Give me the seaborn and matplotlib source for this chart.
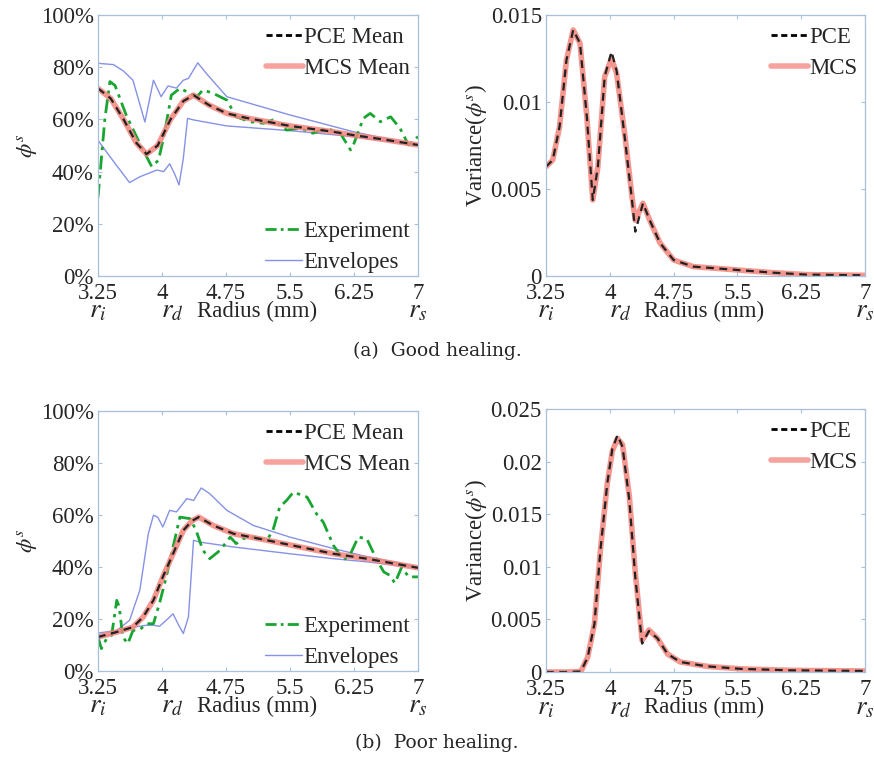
import numpy as np
import pandas as pd
import matplotlib
matplotlib.use("Agg")
import matplotlib.pyplot as plt
import matplotlib.transforms as mtransforms
from matplotlib.lines import Line2D
import seaborn as sns

# ---------------- data ----------------
# (a) Good healing - mean (%)
a_mean_x = [3.25, 3.40, 3.55, 3.70, 3.82, 3.95, 4.10, 4.25, 4.37, 4.55, 4.76, 5.0, 5.5, 6.0, 6.24, 6.6, 7.0]
a_pce_mean = [71.9, 68.0, 60.0, 51.0, 46.7, 50.0, 60.0, 67.0, 69.3, 65.5, 62.3, 60.5, 57.5, 55.3, 54.0, 52.3, 50.2]
a_mcs_mean = [71.9, 68.0, 60.0, 51.0, 46.7, 50.0, 60.0, 67.0, 69.3, 65.5, 62.3, 60.5, 57.5, 55.3, 54.0, 52.3, 50.2]

a_env_up_x = [3.25, 3.43, 3.55, 3.66, 3.80, 3.90, 3.99, 4.07, 4.17, 4.25, 4.31, 4.42, 4.52, 4.76, 5.5, 6.24, 7.0]
a_env_up = [81.5, 81.0, 78.5, 75.0, 59.0, 75.0, 68.7, 72.8, 72.0, 75.0, 75.7, 81.7, 77.6, 68.7, 61.7, 55.3, 50.0]
a_env_lo_x = [3.25, 3.43, 3.62, 3.74, 3.84, 3.94, 4.02, 4.09, 4.15, 4.20, 4.25, 4.30, 4.37, 4.76, 5.5, 6.24, 7.0]
a_env_lo = [52.0, 44.0, 35.8, 38.0, 39.3, 40.6, 40.0, 43.0, 39.0, 34.9, 45.0, 60.4, 59.8, 57.5, 55.7, 53.4, 50.0]

a_exp_x = [3.25, 3.33, 3.39, 3.45, 3.58, 3.74, 3.88, 3.96, 4.03, 4.11, 4.21, 4.33, 4.41, 4.48, 4.60, 4.76, 4.87,
           5.03, 5.19, 5.30, 5.46, 5.62, 5.77, 5.93, 6.09, 6.21, 6.25, 6.36, 6.44, 6.56, 6.68, 6.79, 6.89, 7.0]
a_exp = [30.0, 60.0, 74.5, 73.0, 61.7, 50.8, 41.9, 44.4, 54.7, 69.3, 71.9, 70.0, 68.7, 71.3, 70.0, 67.4, 61.0,
         59.1, 58.5, 59.8, 55.9, 56.6, 54.7, 56.6, 54.7, 48.3, 50.8, 60.4, 62.3, 59.1, 61.0, 56.6, 50.2, 53.4]

# (a) Good healing - variance
a_var_x = [3.25, 3.33, 3.41, 3.49, 3.57, 3.65, 3.73, 3.80, 3.86, 3.94, 4.02, 4.08, 4.18, 4.26, 4.30, 4.39,
           4.47, 4.59, 4.75, 4.98, 5.41, 5.92, 6.31, 7.0]
a_pce_var = [0.00628, 0.00667, 0.0086, 0.0124, 0.01414, 0.01337, 0.00916, 0.00437, 0.00628, 0.01146, 0.0129,
             0.01180, 0.0078, 0.0044, 0.00255, 0.00418, 0.0032, 0.0019, 0.00092, 0.00054, 0.00038, 0.00019,
             0.00008, 0.00004]
a_mcs_var = [0.00628, 0.00667, 0.0086, 0.0124, 0.01414, 0.01337, 0.00916, 0.00437, 0.00628, 0.01146, 0.0125,
             0.01165, 0.0080, 0.0046, 0.0032, 0.00418, 0.0032, 0.0019, 0.00092, 0.00054, 0.00038, 0.00019,
             0.00008, 0.00004]

# (b) Poor healing - mean (%)
b_mean_x = [3.25, 3.47, 3.66, 3.78, 3.90, 4.01, 4.13, 4.25, 4.35, 4.43, 4.60, 4.84, 5.23, 5.62, 6.01, 6.40, 7.0]
b_pce_mean = [13.1, 15.0, 16.9, 20.8, 27.2, 36.2, 45.1, 54.1, 57.7, 59.2, 56.0, 52.8, 50.3, 47.7, 45.1, 43.2, 39.7]
b_mcs_mean = [13.1, 15.0, 16.9, 20.8, 27.2, 36.2, 45.1, 54.1, 57.7, 59.2, 56.0, 52.8, 50.3, 47.7, 45.1, 43.2, 39.7]

b_env_up_x = [3.25, 3.47, 3.62, 3.74, 3.84, 3.90, 3.95, 4.01, 4.09, 4.17, 4.23, 4.29, 4.37, 4.46, 4.56, 4.76,
              5.07, 5.5, 6.01, 6.40, 7.0]
b_env_up = [14.6, 15.6, 19.5, 31.0, 52.8, 59.9, 59.2, 55.4, 61.8, 61.2, 63.7, 66.3, 65.6, 70.4, 68.2, 61.8,
            56.0, 51.5, 47.1, 44.0, 40.0]
b_env_lo_x = [3.25, 3.66, 3.82, 3.90, 3.97, 4.05, 4.13, 4.19, 4.25, 4.31, 4.37, 4.44, 4.84, 5.5, 6.01, 6.40, 7.0]
b_env_lo = [12.4, 16.9, 17.6, 17.6, 17.2, 19.5, 22.0, 18.0, 14.4, 20.8, 50.3, 49.6, 47.7, 45.1, 43.2, 42.0, 39.7]

b_exp_x = [3.25, 3.29, 3.35, 3.41, 3.47, 3.50, 3.54, 3.60, 3.66, 3.74, 3.82, 3.90, 3.97, 4.05, 4.13, 4.21,
           4.33, 4.40, 4.48, 4.56, 4.68, 4.80, 4.87, 4.95, 5.07, 5.23, 5.30, 5.38, 5.46, 5.54, 5.70, 5.81,
           5.89, 6.01, 6.13, 6.21, 6.30, 6.40, 6.52, 6.60, 6.67, 6.73, 6.81, 6.89, 7.0]
b_exp = [13.1, 8.6, 12.4, 13.7, 27.2, 24.6, 13.1, 10.5, 15.6, 15.9, 18.2, 18.2, 25.9, 36.2, 47.7, 59.2,
         58.6, 54.1, 46.4, 43.2, 46.4, 51.5, 49.0, 50.9, 51.5, 50.3, 54.1, 63.1, 65.6, 68.8, 66.9, 60.5,
         57.3, 48.3, 42.6, 45.1, 51.5, 50.9, 42.6, 38.1, 36.8, 33.8, 40.0, 36.2, 36.2]

# (b) Poor healing - variance
b_var_x = [3.25, 3.50, 3.66, 3.74, 3.82, 3.89, 3.97, 4.03, 4.09, 4.15, 4.23, 4.30, 4.38, 4.46, 4.56, 4.68,
           4.83, 5.14, 5.54, 6.12, 7.0]
b_pce_var = [0.0, 0.0, 0.00005, 0.0014, 0.0046, 0.0116, 0.0179, 0.0212, 0.0225, 0.0214, 0.0163, 0.0090,
             0.0027, 0.0039, 0.0032, 0.0017, 0.00095, 0.00054, 0.0003, 0.00016, 0.0001]
b_mcs_var = [0.0, 0.0, 0.00005, 0.0014, 0.0046, 0.0116, 0.0179, 0.0210, 0.0222, 0.0216, 0.0167, 0.0094,
             0.0030, 0.0040, 0.0032, 0.0017, 0.00095, 0.00054, 0.0003, 0.00016, 0.0001]

x_ticks = [3.25, 4, 4.75, 5.5, 6.25, 7]
x_tick_labels = ["3.25", "4", "4.75", "5.5", "6.25", "7"]
pct_ticks = [0, 20, 40, 60, 80, 100]
pct_labels = ["0%", "20%", "40%", "60%", "80%", "100%"]
a_var_ticks = [0, 0.005, 0.01, 0.015]
a_var_labels = ["0", "0.005", "0.01", "0.015"]
b_var_ticks = [0, 0.005, 0.01, 0.015, 0.02, 0.025]
b_var_labels = ["0", "0.005", "0.01", "0.015", "0.02", "0.025"]
captions = ["(a)  Good healing.", "(b)  Poor healing."]

# ---------------- styling ----------------
sns.set_theme(style="white")
plt.rcParams["font.family"] = "serif"
plt.rcParams["font.serif"] = ["Liberation Serif", "DejaVu Serif"]
plt.rcParams["mathtext.fontset"] = "stix"

SERIF = "Liberation Serif"
FS = 16.5
SPINE = "#a9c0dc"
RED = "#f4847c"
GREEN = "#19a531"
BLUE = "#8592e6"

fig = plt.figure(figsize=(8.74, 7.62), dpi=100)

ax_al = fig.add_axes([0.1121, 0.6378, 0.3661, 0.3425])
ax_ar = fig.add_axes([0.6247, 0.6378, 0.3650, 0.3425])
ax_bl = fig.add_axes([0.1121, 0.1194, 0.3661, 0.3412])
ax_br = fig.add_axes([0.6247, 0.1181, 0.3650, 0.3452])


def style_axes(ax, yticks, ylabels, ymax, ylabel):
    ax.set_xlim(3.25, 7)
    ax.set_ylim(0, ymax)
    ax.set_xticks(x_ticks)
    ax.set_xticklabels(x_tick_labels, fontsize=FS, family=SERIF)
    ax.set_yticks(yticks)
    ax.set_yticklabels(ylabels, fontsize=FS, family=SERIF)
    ax.tick_params(axis="x", pad=5)
    ax.tick_params(axis="y", pad=3)
    ax.tick_params(direction="in", length=3, width=0.8, color=SPINE, top=True, right=True,
                   bottom=True, left=True)
    for s in ax.spines.values():
        s.set_color(SPINE)
        s.set_linewidth(0.9)
    ax.set_xlabel("")
    ax.set_ylabel(ylabel, fontsize=FS, labelpad=1, family=SERIF)
    trans = mtransforms.blended_transform_factory(ax.transData, ax.transAxes)
    yy = -0.135
    ax.text(3.25, yy, r"$r_i$", transform=trans, ha="center", va="center", fontsize=FS + 3)
    ax.text(4.12, yy, r"$r_d$", transform=trans, ha="center", va="center", fontsize=FS + 3)
    ax.text(5.11, yy, "Radius (mm)", transform=trans, ha="center", va="center", fontsize=FS,
            family=SERIF)
    ax.text(7.0, yy, r"$r_s$", transform=trans, ha="center", va="center", fontsize=FS + 3)


def make_legend(ax, handles, labels, loc, anchor):
    leg = ax.legend(handles, labels, loc=loc, bbox_to_anchor=anchor, frameon=False,
                    prop={"family": SERIF, "size": FS},
                    handlelength=1.6, handletextpad=0.05, borderaxespad=0.15, borderpad=0.2,
                    labelspacing=0.45)
    return leg


def mean_panel(ax, mx, pce, mcs, ux, up, lx, lo, ex, exp):
    sns.lineplot(x=ux, y=up, ax=ax, color=BLUE, lw=1.0, sort=False, estimator=None)
    sns.lineplot(x=lx, y=lo, ax=ax, color=BLUE, lw=1.0, sort=False, estimator=None)
    sns.lineplot(x=ex, y=exp, ax=ax, color=GREEN, lw=2.0, sort=False, estimator=None,
                 linestyle=(0, (5, 2, 1.2, 2)))
    sns.lineplot(x=mx, y=mcs, ax=ax, color=RED, lw=4.0, alpha=0.85, sort=False, estimator=None)
    sns.lineplot(x=mx, y=pce, ax=ax, color="#222222", lw=1.6, sort=False, estimator=None,
                 linestyle=(0, (3.5, 2.5)))
    style_axes(ax, pct_ticks, pct_labels, 100, r"$\phi^s$")
    h1 = [Line2D([], [], color="black", lw=2.0, linestyle=(0, (2.2, 1.3))),
          Line2D([], [], color=RED, lw=4.0, alpha=0.75)]
    leg1 = make_legend(ax, h1, ["PCE Mean", "MCS Mean"], "upper right", (1.0, 0.985))
    ax.add_artist(leg1)
    h2 = [Line2D([], [], color=GREEN, lw=2.0, linestyle=(0, (4, 1.5, 1, 1.5))),
          Line2D([], [], color=BLUE, lw=1.0)]
    make_legend(ax, h2, ["Experiment", "Envelopes"], "lower right", (1.0, -0.02))


def var_panel(ax, vx, pce, mcs, yticks, ylabels, ymax):
    sns.lineplot(x=vx, y=mcs, ax=ax, color=RED, lw=4.0, alpha=0.85, sort=False, estimator=None)
    sns.lineplot(x=vx, y=pce, ax=ax, color="#222222", lw=1.6, sort=False, estimator=None,
                 linestyle=(0, (3.5, 2.5)))
    style_axes(ax, yticks, ylabels, ymax, r"Variance($\phi^s$)")
    h = [Line2D([], [], color="black", lw=2.0, linestyle=(0, (2.2, 1.3))),
         Line2D([], [], color=RED, lw=4.0, alpha=0.75)]
    make_legend(ax, h, ["PCE", "MCS"], "upper right", (1.0, 0.985))


mean_panel(ax_al, a_mean_x, a_pce_mean, a_mcs_mean, a_env_up_x, a_env_up, a_env_lo_x, a_env_lo,
           a_exp_x, a_exp)
var_panel(ax_ar, a_var_x, a_pce_var, a_mcs_var, a_var_ticks, a_var_labels, 0.015)
mean_panel(ax_bl, b_mean_x, b_pce_mean, b_mcs_mean, b_env_up_x, b_env_up, b_env_lo_x, b_env_lo,
           b_exp_x, b_exp)
var_panel(ax_br, b_var_x, b_pce_var, b_mcs_var, b_var_ticks, b_var_labels, 0.025)

fig.text(0.5, 1 - 351 / 762, captions[0], ha="center", va="center", fontsize=13.5,
         family="DejaVu Serif")
fig.text(0.5, 1 - 743 / 762, captions[1], ha="center", va="center", fontsize=13.5,
         family="DejaVu Serif")

fig.savefig("out.png", dpi=100)
